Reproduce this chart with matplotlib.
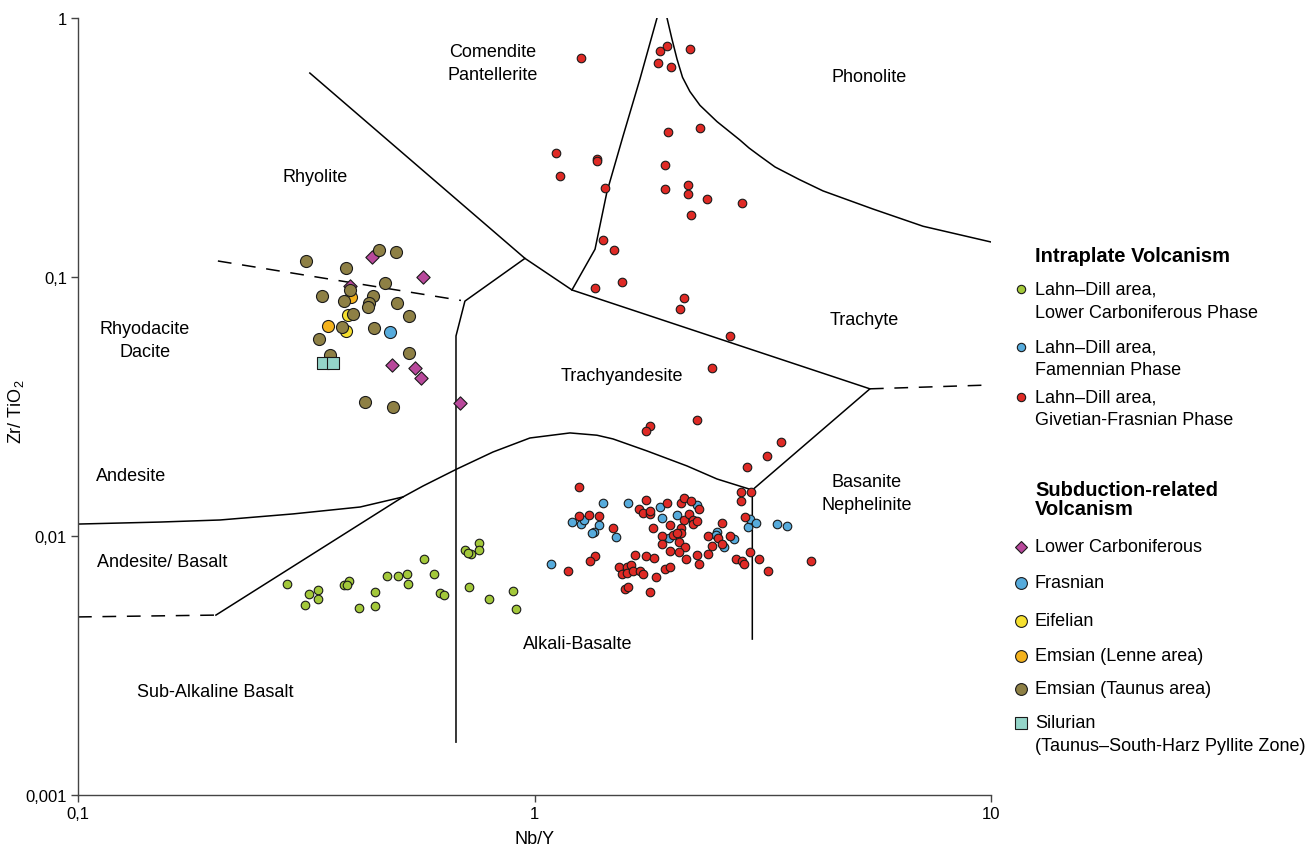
import matplotlib.pyplot as plt
from matplotlib.lines import Line2D
import numpy as np

plt.rcParams['font.family'] = ['Liberation Sans', 'DejaVu Sans']
plt.rcParams['mathtext.default'] = 'regular'

# ---- field boundaries (Nb/Y, Zr/TiO2) ----
rhy_x = [0.322, 0.953, 0.704, 0.673, 0.673]
rhy_y = [0.613, 0.118, 0.0807, 0.0592, 0.0016]
trach_x = [0.953, 1.208, 5.43, 3.0, 3.0]
trach_y = [0.118, 0.0891, 0.037, 0.01505, 0.004]
com_x = [1.208, 1.357, 1.441, 1.563, 1.702, 1.855]
com_y = [0.0891, 0.128, 0.213, 0.350, 0.581, 1.0]
phon_x = [1.951, 2.0, 2.052, 2.11, 2.19, 2.304, 2.511, 2.818, 2.95, 3.118, 3.364, 3.8, 4.285,
          5.514, 7.1, 10.0]
phon_y = [1.0, 0.83, 0.694, 0.59, 0.52, 0.46, 0.398, 0.338, 0.315, 0.293, 0.266, 0.238, 0.215,
          0.183, 0.157, 0.1365]
alk_x = [0.2005, 0.515, 0.570, 0.676, 0.811, 0.977, 1.196, 1.37, 1.486, 1.764, 2.158, 2.511, 3.0]
alk_y = [0.00495, 0.01415, 0.0156, 0.01814, 0.0211, 0.0239, 0.025, 0.0245, 0.0237, 0.0213, 0.01864, 0.0166, 0.01505]
and_x = [0.1, 0.1512, 0.2047, 0.296, 0.415, 0.515]
and_y = [0.01112, 0.01132, 0.01153, 0.01217, 0.01294, 0.01415]
dash1_x = [0.2025, 0.69]
dash1_y = [0.1153, 0.0812]
dash2_x = [0.1, 0.2005]
dash2_y = [0.00487, 0.00495]
dash3_x = [5.43, 10.0]
dash3_y = [0.037, 0.0383]

# ---- Intraplate volcanism ----
lc_x = [0.287, 0.3206, 0.3355, 0.3355, 0.3143, 0.3825, 0.3923, 0.388, 0.4127, 0.447, 0.447,
        0.4753, 0.5023, 0.5257, 0.528, 0.5727, 0.6022, 0.621, 0.6336, 0.704, 0.7259, 0.715,
        0.756, 0.756, 0.7187, 0.795, 0.897, 0.911]
lc_y = [0.00653, 0.00597, 0.00619, 0.00571, 0.00541, 0.00647, 0.0067, 0.00647, 0.00527, 0.00608, 0.00537,
        0.00701, 0.00701, 0.00714, 0.00653, 0.00815, 0.00714, 0.00602, 0.00592, 0.00883, 0.00852, 0.0086,
        0.0094, 0.00883, 0.00636, 0.00571, 0.00613, 0.00522]

fam_x = [1.413, 1.603, 1.208, 1.264, 1.283, 1.385, 1.35, 1.336, 1.509, 1.883, 1.903, 2.052,
         2.27, 1.971, 2.511, 2.5, 2.601, 2.735, 2.936, 2.965, 3.056, 3.398, 3.574, 1.087]
fam_y = [0.0134, 0.0134, 0.01132, 0.01112, 0.01153, 0.01103, 0.01036, 0.01027, 0.00991, 0.01294, 0.01173, 0.01205,
         0.01317, 0.00982, 0.01036, 0.01009, 0.00907, 0.00974, 0.01083, 0.01163, 0.01122, 0.01112, 0.01093, 0.0078]

gf_x = [1.264, 1.883, 1.951, 1.864, 1.991, 2.19, 1.115, 1.137, 1.371, 1.371, 1.427, 1.961,
        2.304, 1.932, 1.932, 2.169, 2.169, 2.387, 2.848, 2.202, 1.413, 1.494, 1.357, 1.555,
        2.126, 2.084, 2.68, 2.448, 2.27, 1.79, 1.755, 3.467, 3.23, 2.92, 1.252, 2.834,
        2.98, 2.834,
        1.755, 1.951, 2.094, 2.126, 2.202, 2.293, 1.694, 1.729, 1.79, 1.79, 1.385, 1.252,
        1.316, 1.486, 1.818, 1.98, 2.126, 2.18, 2.225, 2.225, 2.27, 2.094, 2.094, 2.011,
        2.052, 1.903, 1.903, 2.073, 2.137, 1.98, 2.073, 2.575, 2.399, 2.523, 2.575, 2.68,
        2.448, 2.27, 2.399, 2.147, 2.293, 1.661, 1.755, 1.827, 1.357, 1.323, 1.184, 1.531,
        1.594, 1.627, 1.555, 1.594, 1.644, 1.702, 1.729, 1.932, 1.98, 1.846, 1.578, 1.603,
        1.79, 2.764, 2.848, 2.876, 2.891, 2.965, 3.102, 3.247, 4.034]
gf_y = [0.701, 0.746, 0.78, 0.67, 0.647, 0.759, 0.301, 0.2455, 0.2855, 0.2805, 0.2207, 0.363,
        0.376, 0.2707, 0.2187, 0.2265, 0.209, 0.2, 0.193, 0.1736, 0.139, 0.127, 0.0907, 0.0956,
        0.083, 0.0752, 0.0592, 0.0445, 0.028, 0.0266, 0.0254, 0.0231, 0.0204, 0.0185, 0.01546, 0.01479,
        0.01479, 0.01365,
        0.01377, 0.0134, 0.0134, 0.01402, 0.01365, 0.0127, 0.0127, 0.01227, 0.01216, 0.01249, 0.01195, 0.01195,
        0.01205, 0.01074, 0.01074, 0.01103, 0.01153, 0.01216, 0.01153, 0.01112, 0.01143, 0.01074, 0.01027, 0.01009,
        0.01027, 0.01, 0.00931, 0.00948, 0.00907, 0.00875, 0.00867, 0.01122, 0.01, 0.00982, 0.00931, 0.01,
        0.00915, 0.00845, 0.00852, 0.00815, 0.0078, 0.00845, 0.00837, 0.00822, 0.00837, 0.008, 0.00733, 0.00759,
        0.00759, 0.00773, 0.00714, 0.0072, 0.00733, 0.00733, 0.00714, 0.00746, 0.00759, 0.00695, 0.00624, 0.00636,
        0.00608, 0.00815, 0.008, 0.0078, 0.01184, 0.00867, 0.00815, 0.00733, 0.008]

# ---- Subduction-related volcanism ----
lcarb_x = [0.4406, 0.570, 0.394, 0.4873, 0.547, 0.564, 0.687]
lcarb_y = [0.1195, 0.1, 0.0923, 0.0457, 0.0445, 0.0407, 0.0326]
fras_x = [0.4825]
fras_y = [0.0613]
eif_x = [0.3905, 0.386]
eif_y = [0.0714, 0.0619]
lenne_x = [0.353, 0.396]
lenne_y = [0.0647, 0.0837]
taunus_x = [0.316, 0.386, 0.4565, 0.497, 0.342, 0.394, 0.3825, 0.443, 0.4705, 0.434, 0.432,
            0.4997, 0.531, 0.4003, 0.379, 0.445, 0.337, 0.3565, 0.531, 0.4253, 0.49]
taunus_y = [0.1153, 0.1083, 0.127, 0.1249, 0.0844, 0.0891, 0.0808, 0.0844, 0.0948, 0.0793, 0.0766,
            0.0793, 0.0707, 0.072, 0.0641, 0.0636, 0.0576, 0.05, 0.0509, 0.0329, 0.0315]
sil_x = [0.344, 0.362]
sil_y = [0.0466, 0.0466]

field_names = ['Comendite\nPantellerite', 'Phonolite', 'Rhyolite', 'Trachyte', 'Rhyodacite\nDacite',
               'Trachyandesite', 'Andesite', 'Basanite\nNephelinite', 'Andesite/ Basalt',
               'Alkali-Basalte', 'Sub-Alkaline Basalt']
field_x = [0.811, 5.4, 0.33, 5.27, 0.140, 1.555, 0.1306, 5.35, 0.1528, 1.245, 0.1995]
field_y = [0.67, 0.597, 0.245, 0.0688, 0.0571, 0.0418, 0.01705, 0.01466, 0.00794, 0.00383, 0.00252]

c_green = '#a3c83a'
c_blue = '#56abdc'
c_red = '#df2a25'
c_olive = '#8e8045'
c_yellow = '#f6e02f'
c_orange = '#f4b21c'
c_magenta = '#b8489b'
c_teal = '#94d5c9'

W, H = 1305, 854
fig = plt.figure(figsize=(W / 100, H / 100), dpi=100)
ax = fig.add_axes([78 / W, 58 / H, 913 / W, 777 / H])
ax.set_xscale('log')
ax.set_yscale('log')
ax.set_xlim(0.1, 10)
ax.set_ylim(0.001, 1)

lk = dict(color='black', lw=1.1, zorder=2)
ax.plot(rhy_x, rhy_y, **lk)
ax.plot(trach_x, trach_y, **lk)
ax.plot(com_x, com_y, **lk)
ax.plot(phon_x, phon_y, **lk)
ax.plot(alk_x, alk_y, **lk)
ax.plot(and_x, and_y, **lk)
for dx, dy in [(dash1_x, dash1_y), (dash2_x, dash2_y), (dash3_x, dash3_y)]:
    ax.plot(dx, dy, color='black', lw=1.1, linestyle=(0, (9, 7)), zorder=2)

for name, tx, ty in zip(field_names, field_x, field_y):
    ax.text(tx, ty, name, ha='center', va='center', fontsize=13, linespacing=1.45)

ek = dict(edgecolors='#1a1a1a', linewidths=0.8, zorder=4)
ax.scatter(lc_x, lc_y, s=38, c=c_green, **ek)
ax.scatter(fam_x, fam_y, s=38, c=c_blue, **ek)
ax.scatter(gf_x, gf_y, s=38, c=c_red, **ek)

ax.scatter(lcarb_x, lcarb_y, s=46, marker='D', c=c_magenta, **ek)
ax.scatter(fras_x, fras_y, s=75, c=c_blue, **ek)
ax.scatter(eif_x, eif_y, s=75, c=c_yellow, **ek)
ax.scatter(lenne_x, lenne_y, s=75, c=c_orange, **ek)
ax.scatter(taunus_x, taunus_y, s=75, c=c_olive, **ek)
ax.scatter(sil_x, sil_y, s=64, marker='s', c=c_teal, **ek)

ax.set_xticks([0.1, 1, 10])
ax.set_xticklabels(['0,1', '1', '10'])
ax.set_yticks([0.001, 0.01, 0.1, 1])
ax.set_yticklabels(['0,001', '0,01', '0,1', '1'])
ax.xaxis.set_minor_locator(plt.NullLocator())
ax.yaxis.set_minor_locator(plt.NullLocator())
ax.tick_params(length=5, width=1, color='#444444', labelsize=12, pad=3)
for s in ['top', 'right']:
    ax.spines[s].set_visible(False)
for s in ['left', 'bottom']:
    ax.spines[s].set_color('#444444')
    ax.spines[s].set_linewidth(1.0)

fig.text(535 / W, 1 - 840 / H, 'Nb/Y', ha='center', va='center', fontsize=13)
fig.text(16 / W, 1 - 412 / H, 'Zr/ TiO$_2$', ha='center', va='center', rotation=90, fontsize=13)


# ---- legend drawn by hand, like the original figure ----
def fpos(x, y):
    return x / W, 1 - y / H


def leg_entry(y, marker, color, lines, ms):
    mx, my = fpos(1021, y)
    fig.add_artist(Line2D([mx], [my], marker=marker, markersize=ms, markerfacecolor=color,
                          markeredgecolor='#1a1a1a', markeredgewidth=0.8, linestyle='none',
                          transform=fig.transFigure))
    for i, line in enumerate(lines):
        tx, ty = fpos(1035, y + i * 23)
        fig.text(tx, ty, line, ha='left', va='center', fontsize=13)


tx, ty = fpos(1035, 256)
fig.text(tx, ty, 'Intraplate Volcanism', ha='left', va='center', fontsize=14.5, fontweight='bold')
leg_entry(290, 'o', c_green, ['Lahn–Dill area,', 'Lower Carboniferous Phase'], 6)
leg_entry(348, 'o', c_blue, ['Lahn–Dill area,', 'Famennian Phase'], 6)
leg_entry(398, 'o', c_red, ['Lahn–Dill area,', 'Givetian-Frasnian Phase'], 6)

tx, ty = fpos(1035, 500)
fig.text(tx, ty, 'Subduction-related\nVolcanism', ha='left', va='center', fontsize=14.5,
         fontweight='bold', linespacing=0.95)
leg_entry(548, 'D', c_magenta, ['Lower Carboniferous'], 6)
leg_entry(584, 'o', c_blue, ['Frasnian'], 8.5)
leg_entry(622, 'o', c_yellow, ['Eifelian'], 8.5)
leg_entry(657, 'o', c_orange, ['Emsian (Lenne area)'], 8.5)
leg_entry(690, 'o', c_olive, ['Emsian (Taunus area)'], 8.5)
leg_entry(724, 's', c_teal, ['Silurian', '(Taunus–South-Harz Pyllite Zone)'], 8)

fig.savefig('out.png', dpi=100)
